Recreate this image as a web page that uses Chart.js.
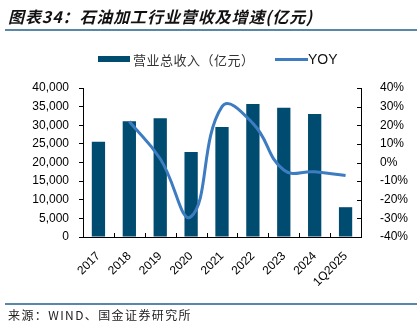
<!DOCTYPE html>
<html>
<head>
<meta charset="utf-8">
<script src="https://cdn.jsdelivr.net/npm/chart.js@4.4.1/dist/chart.umd.min.js"></script>
<style>
    html, body { margin: 0; padding: 0; background: #fff; }
    body { width: 417px; height: 324px; position: relative; overflow: hidden; font-family: "Noto Sans CJK SC", sans-serif; }
    #chart { position: absolute; left: 0; top: 0; }
    .title { position: absolute; left: 8px; top: 4px; font-size: 16px; font-weight: bold; font-style: italic; letter-spacing: 0.9px; color: #111; white-space: nowrap; }
    .rule { position: absolute; left: 5px; right: 0; height: 2px; background: #5a86a8; }
    .legend { position: absolute; top: 49px; font-size: 13px; color: #333; white-space: nowrap; line-height: 17px; }
    .legend span { display: inline-block; vertical-align: middle; }
    .source { position: absolute; left: 8px; top: 306px; font-size: 12px; letter-spacing: 1.4px; color: #222; white-space: nowrap; }
</style>
</head>
<body>
<canvas id="chart" width="417" height="324"></canvas>
<div class="title">图表34：石油加工行业营收及增速(亿元)</div>
<div class="rule" style="top:29px"></div>
<div class="legend" style="left:98px"><span style="width:32px;height:6px;background:#004b70;margin-right:3px"></span><span style="letter-spacing:0.5px">营业总收入（亿元）</span></div>
<div class="legend" style="left:275px"><span style="width:33px;height:3px;background:#3d7cc0"></span><span style="font-family:'Liberation Sans',Arial,sans-serif;font-size:14px;color:#111">YOY</span></div>
<div class="rule" style="top:303px"></div>
<div class="source">来源：WIND、国金证券研究所</div>
<script>
const categories = ['2017', '2018', '2019', '2020', '2021', '2022', '2023', '2024', '1Q2025'];
const revenue = [25600, 31100, 31900, 22850, 29500, 35700, 34700, 33000, 8000];
const yoy = [null, 22, 2, -29, 30, 21, -4, -5, -7];

const tickFont = { family: "'Liberation Sans', Arial, sans-serif", size: 12 };

// inner tick marks on the right axis and the category axis
const innerTicks = {
    id: 'innerTicks',
    afterDraw(chart) {
        const ctx = chart.ctx;
        const x = chart.scales.x;
        const y1 = chart.scales.y1;
        ctx.save();
        ctx.strokeStyle = '#000';
        ctx.lineWidth = 1;
        ctx.beginPath();
        const step = (x.right - x.left) / categories.length;
        for (let i = 1; i < categories.length; i++) {
            const px = Math.round(x.left + i * step) + 0.5;
            ctx.moveTo(px, x.top);
            ctx.lineTo(px, x.top - 4);
        }
        y1.ticks.forEach(t => {
            const py = Math.round(y1.getPixelForValue(t.value)) + 0.5;
            ctx.moveTo(y1.left, py);
            ctx.lineTo(y1.left - 4, py);
        });
        ctx.stroke();
        ctx.restore();
    }
};

new Chart(document.getElementById('chart'), {
    data: {
        labels: categories,
        datasets: [{
            type: 'line',
            label: 'YOY',
            data: yoy,
            yAxisID: 'y1',
            borderColor: '#3d7cc0',
            borderWidth: 3,
            pointRadius: 0,
            tension: 0.45,
            spanGaps: true,
            order: 0
        }, {
            type: 'bar',
            label: '营业总收入（亿元）',
            data: revenue,
            yAxisID: 'y',
            backgroundColor: '#004b70',
            barPercentage: 0.43,
            categoryPercentage: 1,
            order: 1
        }]
    },
    options: {
        responsive: false,
        animation: false,
        layout: { padding: { top: 88, left: 0, right: 0, bottom: 0 } },
        plugins: {
            legend: { display: false },
            tooltip: { enabled: false }
        },
        scales: {
            x: {
                grid: { display: false },
                border: { color: '#000', width: 1 },
                ticks: { color: '#000', font: tickFont, minRotation: 45, maxRotation: 45, padding: 4 },
                afterFit: s => { s.height = 87; }
            },
            y: {
                position: 'left',
                min: 0,
                max: 40000,
                grid: { drawOnChartArea: false, tickLength: 4, color: '#000' },
                border: { color: '#000', width: 1 },
                ticks: {
                    stepSize: 5000,
                    color: '#000',
                    font: tickFont,
                    padding: 10,
                    callback: v => v.toLocaleString('en-US')
                },
                afterFit: s => { s.width = 83; }
            },
            y1: {
                position: 'right',
                min: -40,
                max: 40,
                grid: { display: false },
                border: { color: '#000', width: 1 },
                ticks: {
                    stepSize: 10,
                    color: '#000',
                    font: tickFont,
                    padding: 11,
                    callback: v => v + '%'
                },
                afterFit: s => { s.width = 56; }
            }
        }
    },
    plugins: [innerTicks]
});
</script>
</body>
</html>
